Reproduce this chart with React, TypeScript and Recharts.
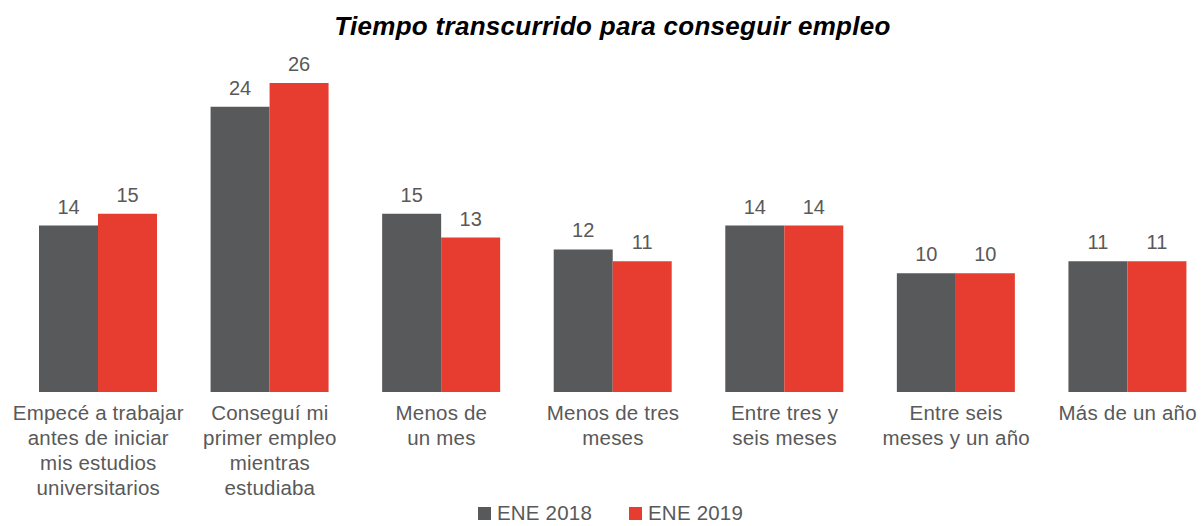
import { BarChart, Bar, XAxis, YAxis, LabelList, Legend } from "recharts";

const categories = [
  ["Empecé a trabajar", "antes de iniciar", "mis estudios", "universitarios"],
  ["Conseguí mi", "primer empleo", "mientras", "estudiaba"],
  ["Menos de", "un mes"],
  ["Menos de tres", "meses"],
  ["Entre tres y", "seis meses"],
  ["Entre seis", "meses y un año"],
  ["Más de un año"],
];
const ene2018 = [14, 24, 15, 12, 14, 10, 11];
const ene2019 = [15, 26, 13, 11, 14, 10, 11];

const data = categories.map((lines, i) => ({
  name: lines.join(" "),
  y2018: ene2018[i],
  y2019: ene2019[i],
}));

const FONT = '"Liberation Sans", Arial, Helvetica, sans-serif';
const TEXT = "#595959";
const GRAY = "#58595b";
const RED = "#e63d30";

function CategoryTick({ x, y, payload }: any) {
  const lines = categories[payload.index] ?? [];
  return (
    <text x={x} y={y} textAnchor="middle" fill={TEXT} fontSize={20.5} letterSpacing={0.2} fontFamily={FONT}>
      {lines.map((l, i) => (
        <tspan key={i} x={x} dy={i === 0 ? 28 : 25}>
          {l}
        </tspan>
      ))}
    </text>
  );
}

function LegendBox() {
  const items = [
    { label: "ENE 2018", color: GRAY },
    { label: "ENE 2019", color: RED },
  ];
  return (
    <div style={{ display: "flex", justifyContent: "center", gap: 37, paddingLeft: 20, fontFamily: FONT, fontSize: 20.5, letterSpacing: 0.2, color: TEXT, lineHeight: "22px" }}>
      {items.map((it) => (
        <div key={it.label} style={{ display: "flex", alignItems: "center", gap: 6 }}>
          <span style={{ width: 13, height: 13, background: it.color, display: "inline-block" }} />
          <span>{it.label}</span>
        </div>
      ))}
    </div>
  );
}

export default function App() {
  return (
    <div style={{ position: "absolute", left: 0, top: 0, width: 1201, height: 526, overflow: "hidden", background: "#fff" }}>
      <div
        style={{
          position: "absolute",
          left: 0,
          top: 11,
          width: 1225,
          textAlign: "center",
          fontFamily: FONT,
          fontWeight: "bold",
          fontStyle: "italic",
          fontSize: 26,
          letterSpacing: 0.3,
          color: "#000",
        }}
      >
        Tiempo transcurrido para conseguir empleo
      </div>
      <BarChart
        width={1230}
        height={526}
        data={data}
        margin={{ top: 83, left: 12.5, right: 16.5, bottom: 34 }}
        barCategoryGap={26.5}
        barGap={0}
      >
        <XAxis
          dataKey="name"
          axisLine={false}
          tickLine={false}
          tickSize={0}
          tickMargin={0}
          height={100}
          interval={0}
          tick={<CategoryTick />}
        />
        <YAxis hide domain={[0, 26]} />
        <Legend
          layout="horizontal"
          verticalAlign="middle"
          align="center"
          content={<LegendBox />}
          wrapperStyle={{ top: 502, left: 0, width: 1201 }}
        />
        <Bar dataKey="y2018" fill={GRAY} isAnimationActive={false}>
          <LabelList dataKey="y2018" position="top" offset={12} fill={TEXT} fontSize={20} fontFamily={FONT} />
        </Bar>
        <Bar dataKey="y2019" fill={RED} isAnimationActive={false}>
          <LabelList dataKey="y2019" position="top" offset={12} fill={TEXT} fontSize={20} fontFamily={FONT} />
        </Bar>
      </BarChart>
    </div>
  );
}
